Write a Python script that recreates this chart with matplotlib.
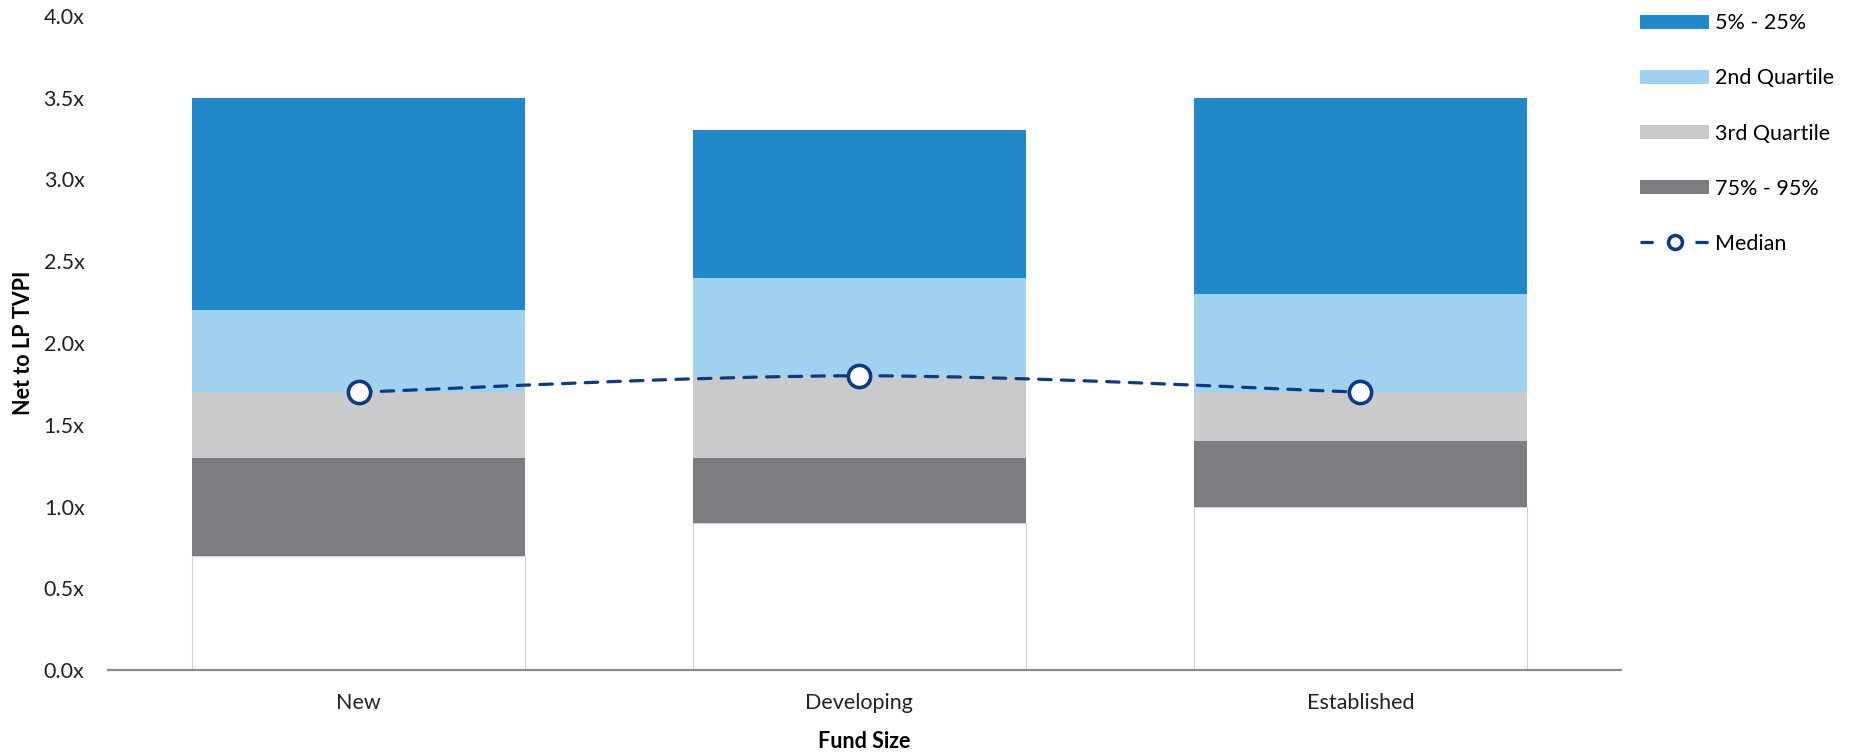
import matplotlib
matplotlib.use("Agg")
import matplotlib.pyplot as plt
from matplotlib.patches import Patch, PathPatch
from matplotlib.lines import Line2D
from matplotlib.path import Path

plt.rcParams["font.family"] = ["Lato", "DejaVu Sans"]

categories = ["New", "Developing", "Established"]
# quantile boundaries (net to LP TVPI, x)
p95 = [0.7, 0.9, 1.0]
p75 = [1.3, 1.3, 1.4]
p50 = [1.7, 1.8, 1.7]
p25 = [2.2, 2.4, 2.3]
p05 = [3.5, 3.3, 3.5]
median = [1.7, 1.8, 1.7]

C_TOP = "#2189C9"
C_Q2 = "#A0D2F0"
C_Q3 = "#C9CACC"
C_LOW = "#7B7D81"
C_MED = "#0E3A84"
C_EDGE = "#C9D4DE"
FS = 15.5

fig = plt.figure(figsize=(18.65, 7.54), dpi=100)
ax = fig.add_axes([0.058, 0.111, 0.811, 0.868])

x = list(range(len(categories)))
w = 0.665
ax.bar(x, p95, width=w, color="white", edgecolor=C_EDGE, linewidth=0.8, zorder=2)
ax.bar(x, [b - a for a, b in zip(p95, p75)], bottom=p95, width=w, color=C_LOW, zorder=2)
ax.bar(x, [b - a for a, b in zip(p75, p50)], bottom=p75, width=w, color=C_Q3, zorder=2)
ax.bar(x, [b - a for a, b in zip(p50, p25)], bottom=p50, width=w, color=C_Q2, zorder=2)
ax.bar(x, [b - a for a, b in zip(p25, p05)], bottom=p25, width=w, color=C_TOP, zorder=2)

# smoothed median line (Catmull-Rom style bezier through the points)
pts = list(zip(x, median))
verts = [pts[0]]
codes = [Path.MOVETO]
for i in range(len(pts) - 1):
    p0 = pts[i - 1] if i > 0 else pts[i]
    p1, p2 = pts[i], pts[i + 1]
    p3 = pts[i + 2] if i + 2 < len(pts) else p2
    c1 = (p1[0] + (p2[0] - p0[0]) / 6, p1[1] + (p2[1] - p0[1]) / 6)
    c2 = (p2[0] - (p3[0] - p1[0]) / 6, p2[1] - (p3[1] - p1[1]) / 6)
    verts += [c1, c2, p2]
    codes += [Path.CURVE4] * 3
ax.add_patch(PathPatch(Path(verts, codes), fill=False, edgecolor=C_MED, lw=2.3,
                       linestyle=(0, (3.9, 3.2)), capstyle="round", zorder=3))
ax.plot(x, median, "o", ms=16, mfc="white", mec=C_MED, mew=2.6, zorder=4)

ax.set_xlim(-0.5, 2.52)
ax.set_ylim(0, 4.0)
ax.set_yticks([0, 0.5, 1.0, 1.5, 2.0, 2.5, 3.0, 3.5, 4.0])
ax.set_yticklabels([f"{v:.1f}x" for v in ax.get_yticks()])
ax.set_xticks(x)
ax.set_xticklabels(categories)
ax.tick_params(axis="both", length=0, labelsize=FS, colors="#222222")
ax.tick_params(axis="x", pad=16)
ax.tick_params(axis="y", pad=17)
for s in ["top", "right", "left"]:
    ax.spines[s].set_visible(False)
ax.spines["bottom"].set_color("#8C8C8C")
ax.spines["bottom"].set_linewidth(1.6)
ax.spines["bottom"].set_zorder(5)

ax.set_ylabel("Net to LP TVPI", fontsize=FS, fontweight="bold", labelpad=7)
ax.set_xlabel("Fund Size", fontsize=FS, fontweight="bold", labelpad=13)

handles = [
    Patch(facecolor=C_TOP, label="5% - 25%"),
    Patch(facecolor=C_Q2, label="2nd Quartile"),
    Patch(facecolor=C_Q3, label="3rd Quartile"),
    Patch(facecolor=C_LOW, label="75% - 95%"),
    Line2D([0], [0], color=C_MED, lw=2.3, ls=(0, (4.1, 4.5)), marker="o", ms=10,
           mfc="white", mec=C_MED, mew=2.6, label="Median"),
]
fig.legend(handles=handles, loc="upper left", bbox_to_anchor=(0.869, 1.008),
           frameon=False, fontsize=FS, handlelength=3.2, handleheight=0.65,
           labelspacing=1.63, handletextpad=0.3)

fig.savefig("out.png", dpi=100)
